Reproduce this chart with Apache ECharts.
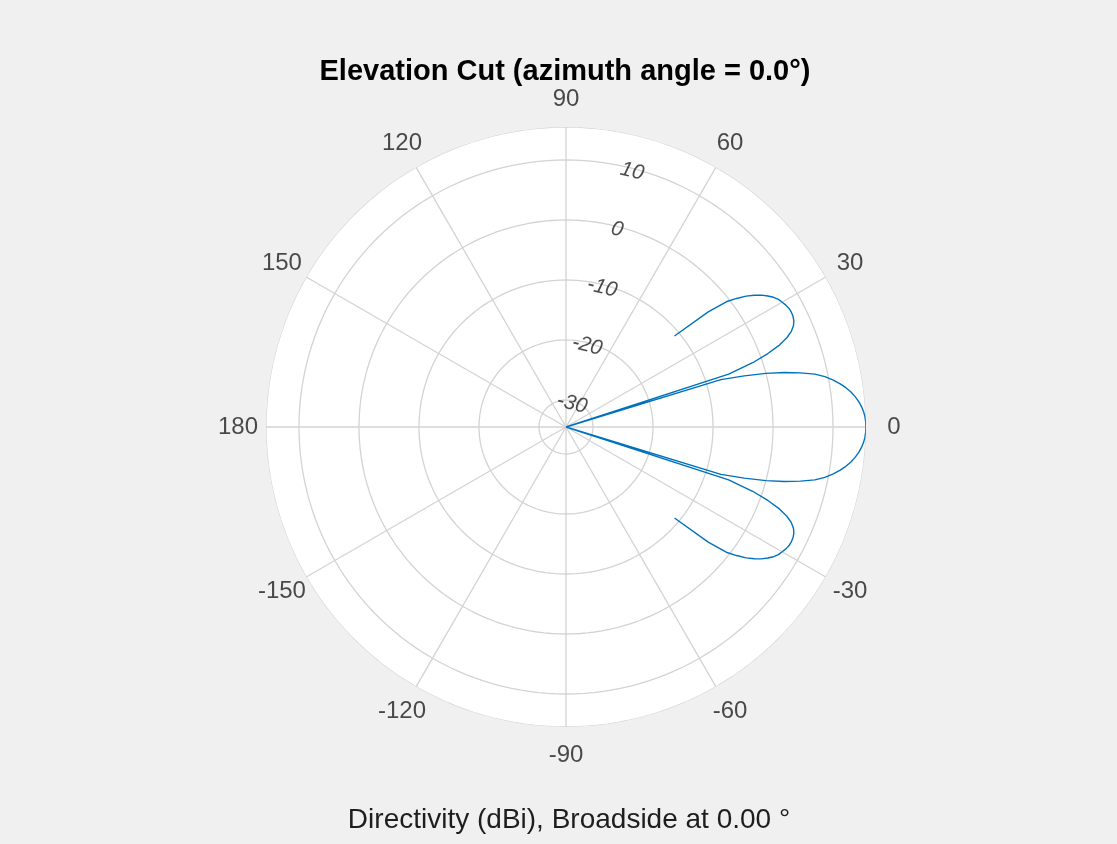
<!DOCTYPE html>
<html><head><meta charset="utf-8">
<script src="https://cdn.jsdelivr.net/npm/echarts@6/dist/echarts.min.js"></script>
<style>html,body{margin:0;padding:0;background:#f0f0f0;} #chart{width:1117px;height:844px;}</style>
</head><body><div id="chart"></div>
<script>
// ---- data ----
const elevationDeg = [-40,-39,-38,-37,-36,-35,-34,-33,-32,-31,-30,-29,-28,-27,-26,-25,-24,-23,-22,-21,-20,-19,-18,-17.5,-17,-16,-15,-14,-13,-12,-11,-10,-9,-8,-7,-6,-5,-4,-3,-2,-1,0,1,2,3,4,5,6,7,8,9,10,11,12,13,14,15,16,17,17.5,18,19,20,21,22,23,24,25,26,27,28,29,30,31,32,33,34,35,36,37,38,39,40];
const directivityDbi = [-10.9,-4.0,-0.6,1.1,2.6,3.8,4.8,5.6,6.3,6.8,7.1,7.4,7.6,7.65,7.6,7.4,7.0,6.3,5.2,3.6,1.3,-1.6,-6.0,-45,-7.5,-3.6,0.0,3.0,5.6,7.9,9.45,10.65,11.7,12.6,13.35,13.95,14.45,14.85,15.15,15.35,15.45,15.5,15.45,15.35,15.15,14.85,14.45,13.95,13.35,12.6,11.7,10.65,9.45,7.9,5.6,3.0,0.0,-3.6,-7.5,-45,-6.0,-1.6,1.3,3.6,5.2,6.3,7.0,7.4,7.6,7.65,7.6,7.4,7.1,6.8,6.3,5.6,4.8,3.8,2.6,1.1,-0.6,-4.0,-10.9];
const radialTicks = [-30, -20, -10, 0, 10];
const angleTicks = [0, 30, 60, 90, 120, 150, 180, 210, 240, 270, 300, 330];
const radialRange = [-34.5, 15.5];
const titleText = 'Elevation Cut (azimuth angle = 0.0°)';
const footerText = 'Directivity (dBi), Broadside at 0.00 °';

// ---- style ----
const FONT = '"Liberation Sans", Arial, Helvetica, sans-serif';
const GRID = '#d3d3d3';
const GRID_W = 1.3;
const TXT = '#1e1e1e';
const CENTER = [566, 427];
const RADIUS = 300;
const LABEL_RADIUS = 328;
const RADIAL_LABEL_ANGLE = 75.5;

const chart = echarts.init(document.getElementById('chart'), null, {renderer: 'canvas'});

const wrap = a => ((a % 360) + 360) % 360;
const patternData = elevationDeg.map((a, i) => [Math.max(directivityDbi[i], radialRange[0]), wrap(a)]);

const gridLine = (data) => ({
  type: 'line', coordinateSystem: 'polar', polarIndex: 0, data, symbol: 'none', silent: true, z: 1,
  lineStyle: {color: GRID, width: GRID_W}, animation: false
});
const ringSeries = radialTicks.concat([radialRange[1]]).map(t => {
  const pts = [];
  for (let a = 0; a <= 360; a += 2) pts.push([t, a]);
  return gridLine(pts);
});
const spokeSeries = angleTicks.map(a => gridLine([[radialRange[0], a], [radialRange[1], a]]));

const option = {
  backgroundColor: '#f0f0f0',
  animation: false,
  title: [
    {text: titleText, left: 565, top: 57, textAlign: 'center', padding: 0,
     textStyle: {fontFamily: FONT, fontSize: 29, fontWeight: 'bold', color: '#000'}},
    {text: footerText, left: 569, top: 806, textAlign: 'center', padding: 0,
     textStyle: {fontFamily: FONT, fontSize: 28, fontWeight: 'normal', color: TXT}}
  ],
  polar: [
    {center: CENTER, radius: RADIUS},
    {center: CENTER, radius: LABEL_RADIUS}
  ],
  angleAxis: [
    {polarIndex: 0, type: 'value', min: 0, max: 360, interval: 30, startAngle: 0, clockwise: false,
     axisLine: {show: false}, axisTick: {show: false}, axisLabel: {show: false},
     splitLine: {show: false},
     splitArea: {show: true, areaStyle: {color: ['#ffffff']}}},
    {polarIndex: 1, type: 'value', min: 0, max: 360, startAngle: 0, clockwise: false, show: false}
  ],
  radiusAxis: [
    {polarIndex: 0, type: 'value', min: radialRange[0], max: radialRange[1], show: false,
     splitLine: {show: false}},
    {polarIndex: 1, type: 'value', min: 0, max: 1, show: false}
  ],
  series: [
    ...ringSeries,
    ...spokeSeries,
    {
      type: 'line', coordinateSystem: 'polar', polarIndex: 0, data: patternData, symbol: 'none', z: 5,
      lineStyle: {color: '#0072BD', width: 1.4}, animation: false
    },
    {
      type: 'scatter', coordinateSystem: 'polar', polarIndex: 0, z: 6, symbolSize: 0, silent: true,
      data: radialTicks.map(t => [t - 0.5, RADIAL_LABEL_ANGLE]),
      label: {show: true, position: 'inside', rotate: -14,
        formatter: p => String(radialTicks[p.dataIndex]),
        fontFamily: FONT, fontSize: 21, fontStyle: 'italic', color: TXT}
    },
    {
      type: 'scatter', coordinateSystem: 'polar', polarIndex: 1, z: 6, symbolSize: 0, silent: true,
      data: angleTicks.map(a => [1, a]),
      label: {show: true, position: 'inside',
        formatter: p => { const a = angleTicks[p.dataIndex]; return String(a > 180 ? a - 360 : a); },
        fontFamily: FONT, fontSize: 24, color: TXT}
    }
  ]
};
chart.setOption(option);
</script>
</body></html>
